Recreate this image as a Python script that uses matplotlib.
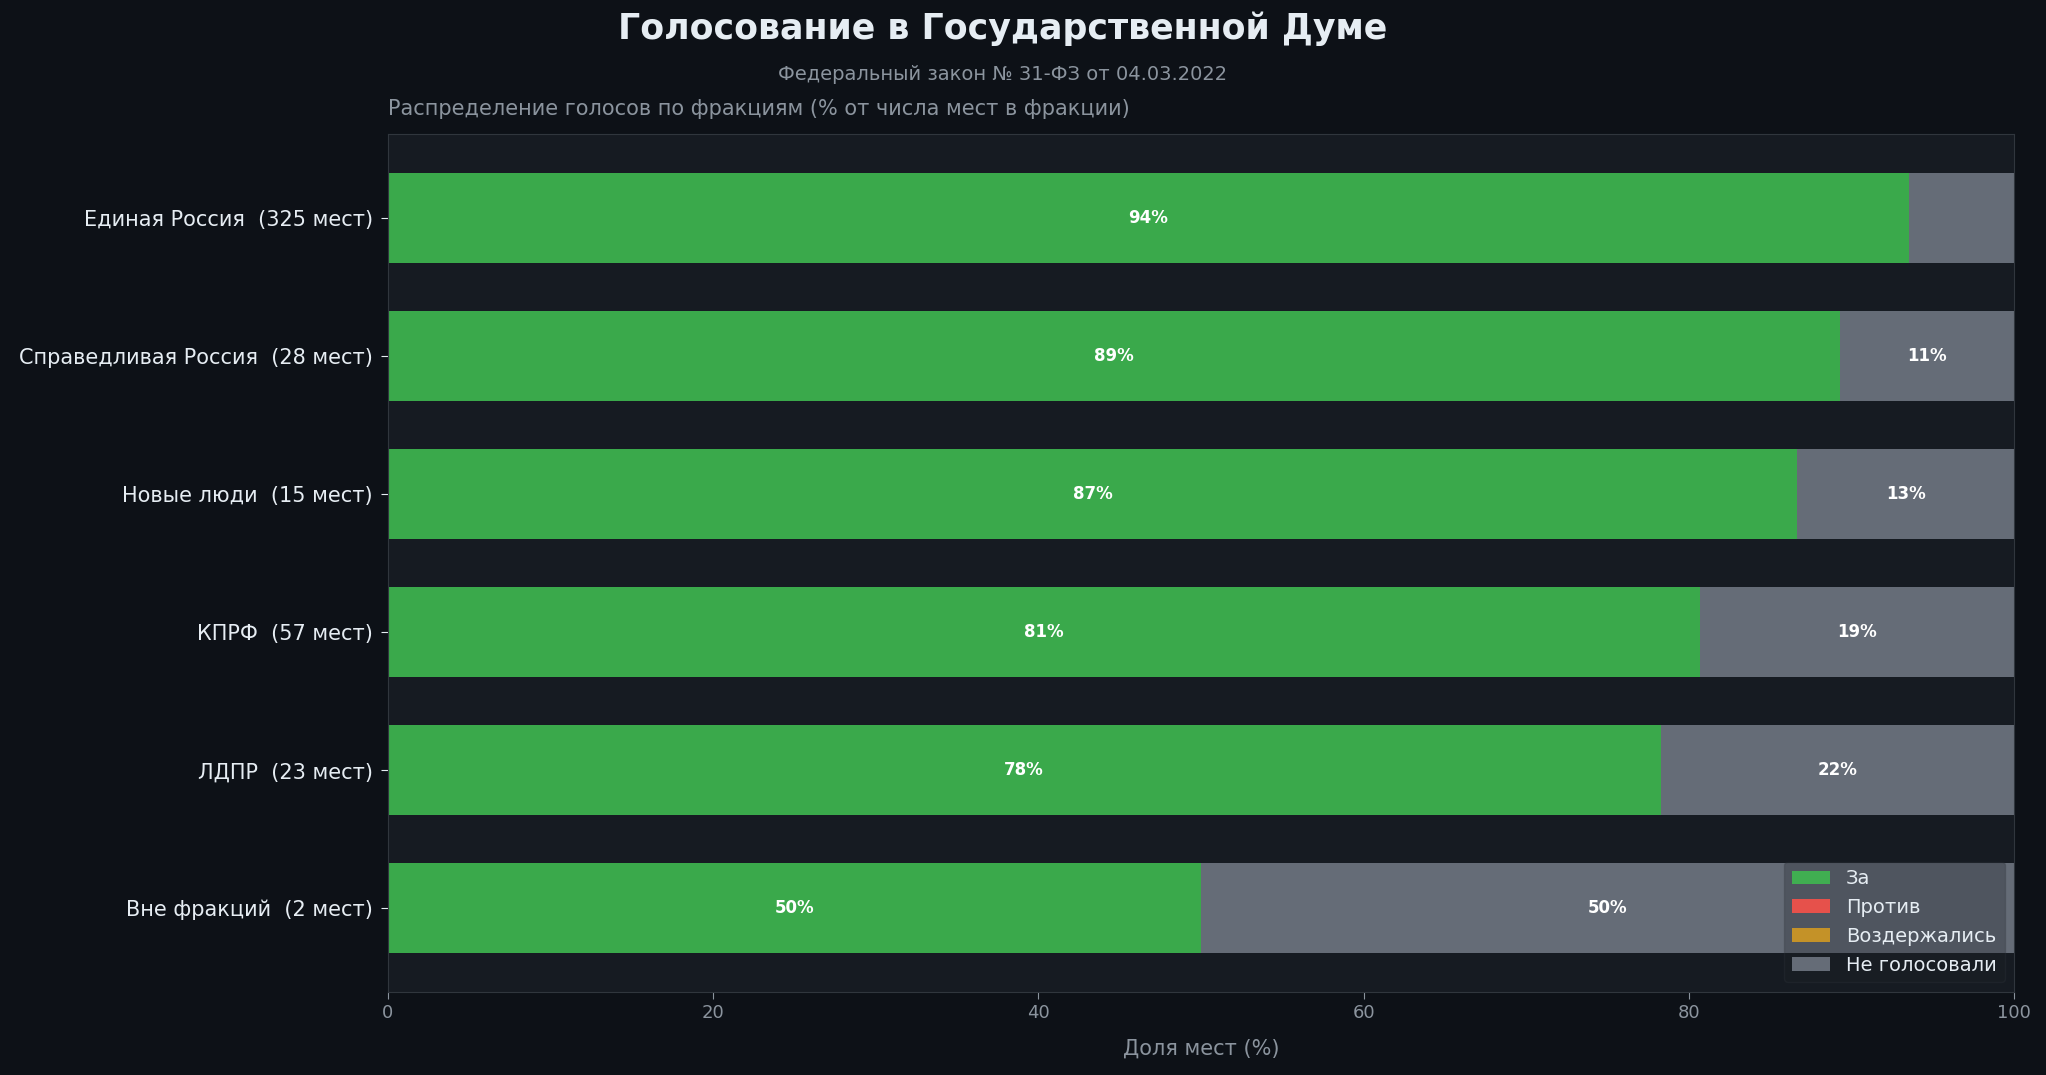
import matplotlib
matplotlib.use("Agg")
import matplotlib.pyplot as plt
import numpy as np

plt.rcParams['font.family'] = ['DejaVu Sans']

factions = ["Единая Россия", "Справедливая Россия", "Новые люди", "КПРФ", "ЛДПР", "Вне фракций"]
seats = [325, 28, 15, 57, 23, 2]
votes_for = [304, 25, 13, 46, 18, 1]
votes_against = [0, 0, 0, 0, 0, 0]
votes_abstain = [0, 0, 0, 0, 0, 0]
votes_none = [21, 3, 2, 11, 5, 1]

series_names = ["За", "Против", "Воздержались", "Не голосовали"]
series_colors = ["#3fb950", "#f85149", "#d29922", "#6e7681"]

BG = "#0d1117"
AX_BG = "#161b22"
TXT = "#e6edf3"
MUTED = "#8b949e"
EDGE = "#30363d"

fig = plt.figure(figsize=(20.46, 10.75), dpi=100, facecolor=BG)
ax = fig.add_axes([0.1894, 0.0772, 0.9845 - 0.1894, 0.8749 - 0.0772])
ax.set_facecolor(AX_BG)

seats_arr = np.array(seats, dtype=float)
series = [np.array(v, dtype=float) / seats_arr * 100 for v in
          (votes_for, votes_against, votes_abstain, votes_none)]
labels = [f"{f}  ({s} мест)" for f, s in zip(factions, seats)]
y = np.arange(len(factions))

left = np.zeros(len(factions))
for name, vals, col in zip(series_names, series, series_colors):
    bars = ax.barh(y, vals, left=left, height=0.65, color=col, alpha=0.9,
                   label=name, edgecolor="none")
    for b, v, l in zip(bars, vals, left):
        if v >= 8:
            ax.text(l + v / 2, b.get_y() + b.get_height() / 2, f"{v:.0f}%",
                    ha="center", va="center", color="white",
                    fontsize=12, fontweight="bold")
    left = left + vals

ax.set_yticks(y)
ax.set_yticklabels(labels)
ax.invert_yaxis()
ax.set_xlim(0, 100)

ax.tick_params(axis="y", colors=TXT, labelsize=15, length=5, pad=5.5)
ax.tick_params(axis="x", colors=MUTED, labelsize=13, length=5)
for sp in ax.spines.values():
    sp.set_color(EDGE)

ax.set_xlabel("Доля мест (%)", color=MUTED, fontsize=15, labelpad=12)
ax.set_title("Распределение голосов по фракциям (% от числа мест в фракции)",
             loc="left", color=MUTED, fontsize=15, pad=14)

fig.text(0.49, 0.973, "Голосование в Государственной Думе", ha="center",
         va="center", color=TXT, fontsize=25, fontweight="bold")
fig.text(0.49, 0.931, "Федеральный закон № 31-ФЗ от 04.03.2022", ha="center",
         va="center", color=MUTED, fontsize=14)

leg = ax.legend(loc="lower right", fontsize=14, facecolor="#1e2228",
                edgecolor=EDGE, framealpha=0.3, labelcolor=TXT,
                borderaxespad=0.5)

fig.savefig("out.png", dpi=100, facecolor=BG)
